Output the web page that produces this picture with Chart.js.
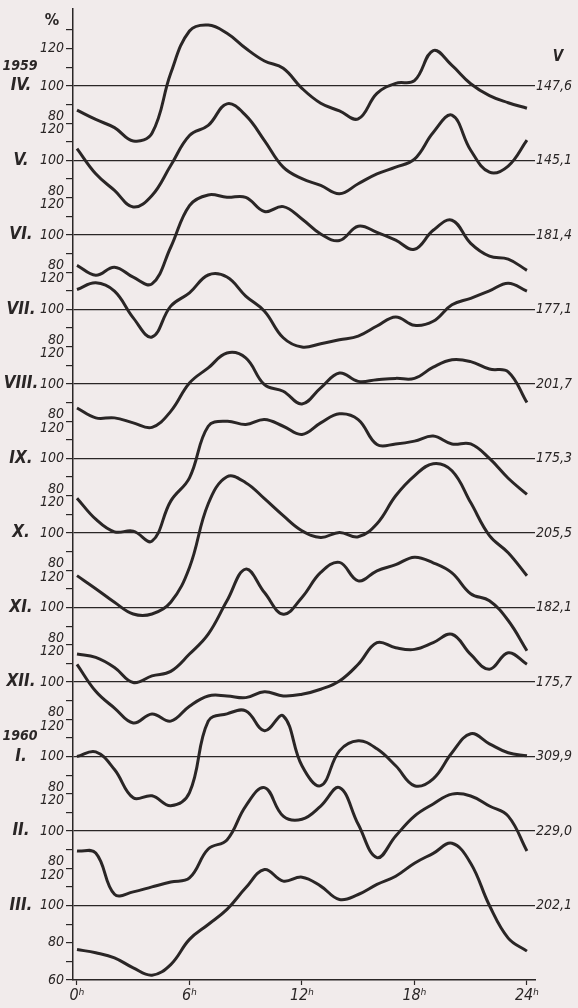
<!DOCTYPE html>
<html>
<head>
<meta charset="utf-8">
<script src="https://cdn.jsdelivr.net/npm/chart.js@4"></script>
<style>
  html, body { margin: 0; padding: 0; background: #f1ebeb; }
  canvas { display: block; }
</style>
</head>
<body>
<canvas id="chart" width="578" height="1008"></canvas>
<script>
// hours of the day (x axis)
const hours = [0,1,2,3,4,5,6,7,8,9,10,11,12,13,14,15,16,17,18,19,20,21,22,23,24];
const hourTicks = [0, 6, 12, 18, 24];

// month labels, year marks and daily mean V (right side)
const months = ['IV.','V.','VI.','VII.','VIII.','IX.','X.','XI.','XII.','I.','II.','III.'];
const yearMarks = ['1959','','','','','','','','','1960','',''];
const dailyV = ['147,6','145,1','181,4','177,1','201,7','175,3','205,5','182,1','175,7','309,9','229,0','202,1'];

// hourly values in % of the daily mean, one array per month
const apr59 = [87,82,77.6,70.5,74.6,106.8,129.5,132.7,128.3,120.2,113.4,109.5,98.7,90.7,86.6,82.3,96,101.4,102.8,119,111,101.2,94.8,91,88];
const may59 = [106.3,92.8,83.9,75,81.2,97.3,113.4,118.8,130.4,124.2,110.7,96.4,90.2,86.6,82.1,87.5,92.8,96.4,100.7,115,124.3,105.5,93.7,97,110.9];
const jun59 = [83.7,78.4,82.7,77.3,73.7,93.4,115.8,121.5,120.2,120.2,112.6,115.2,108.6,100.5,97,104.7,101.4,97.2,92.3,102.5,107.9,95.5,88.6,87,81];
const jul59 = [110.7,114.3,109.8,95.5,85.2,101.8,108.9,118.5,117.4,107.2,99.1,84.8,79.8,81.6,83.7,85.7,91.1,96,91.5,93.7,102.5,106,110,114.1,109.8];
const aug59 = [87.1,81.8,81.8,79.1,76.7,85.3,100.5,108.6,116.6,114,99.6,96.1,89.3,97.9,105.9,101.4,102.3,103,103,109,113,112,108,106.5,90];
const sep59 = [78.7,67.4,60.6,61,55.6,77.1,89.6,117.3,120,118.2,120.9,117.3,112.9,119.1,124,120.9,107.5,107.8,109.3,112,107.8,107.8,100,89.4,80.7];
const oct59 = [77.1,70.1,62.8,56.5,56.5,62.8,81.5,115.7,130.2,127,118.4,109.3,101.2,97.6,100.3,98,105,120,130.7,137.2,133.4,116.3,98.6,89.4,77];
const nov59 = [75,73.2,67.8,59.7,63.3,65.7,75,85.7,103.6,120.6,108,96.4,105.4,118.8,124.2,114.3,119.7,123,127,124,118.6,107.4,103.6,93,76.8];
const dec59 = [109.5,95,86,78,82.8,79,87,92.5,92.5,91.6,94.8,92.5,93.4,96.1,100.5,109.5,121.1,118.4,117.5,121.1,125.6,114.8,106.8,115.7,109.5];
const jan60 = [100,102.5,93,77.8,78.9,73.6,80.6,119,122.9,124.5,113.8,121.8,95,84.3,103,108.4,104.1,95,84.3,88,102,112.2,106.8,102,100.4];
const feb60 = [89.3,88.2,66,67.3,70,72.6,74.8,90.3,95.2,113.4,123.3,108,106.3,113.4,123.3,103.6,85.7,97.3,108,114.5,119.8,118.8,113.4,108,89.3];
const mar60 = [76.4,74.6,71.9,66.5,62.6,68.3,81.8,89.8,97.9,109.5,119.3,113.1,115.2,110.4,103.2,105.9,111.3,115.7,122.7,128,133.4,122.7,100,82.5,75.5];

const series = [apr59, may59, jun59, jul59, aug59, sep59, oct59, nov59, dec59, jan60, feb60, mar60];

// each month is shifted up by 40 % from the one below it
const shift = 40;
const offsetOf = i => (series.length - 1 - i) * shift;
const baseOf = i => 100 + offsetOf(i);

const ink = '#2a2626';
const narrow = "'Liberation Sans Narrow', 'DejaVu Sans Condensed', sans-serif";

const datasets = series.map((vals, i) => ({
    data: hours.map((h, j) => ({ x: h, y: vals[j] + offsetOf(i) })),
    borderColor: ink,
    borderWidth: 3,
    pointRadius: 0,
    tension: 0.4,
    fill: false
}));

// y tick label: 100 at each baseline, 80/120 stacked where months meet
function yLabel(v) {
    if (v === 60) return '60';
    if (v === 80) return '80';
    if (v === 560) return '120';
    if ((v - 20) % 40 === 0 && v >= 100 && v <= 540) return '100';
    if (v % 40 === 0 && v >= 120 && v <= 520) return ['80', '120'];
    return '';
}
const isBase = v => (v - 20) % 40 === 0 && v >= 100 && v <= 540;

// month names, year marks, V values and headers
const labelPlugin = {
    id: 'labels',
    afterDraw(chart) {
        const { ctx, scales: { y } } = chart;
        ctx.save();
        ctx.fillStyle = ink;
        ctx.textBaseline = 'middle';
        months.forEach((m, i) => {
            const py = y.getPixelForValue(baseOf(i));
            ctx.textAlign = 'center';
            ctx.font = `italic bold 17px ${narrow}`;
            ctx.fillText(m, 21, py);
            if (yearMarks[i]) {
                ctx.font = `italic bold 14px ${narrow}`;
                ctx.fillText(yearMarks[i], 20, py - 20);
            }
            ctx.textAlign = 'left';
            ctx.font = `italic 14px ${narrow}`;
            ctx.fillText(dailyV[i], 536, py);
        });
        ctx.textAlign = 'center';
        ctx.font = `bold 16px ${narrow}`;
        ctx.fillText('%', 52, 21);
        ctx.font = `italic bold 15px ${narrow}`;
        ctx.fillText('V', 558, 57);
        ctx.restore();
    }
};

new Chart(document.getElementById('chart'), {
    type: 'line',
    data: { datasets },
    options: {
        responsive: false,
        animation: false,
        devicePixelRatio: 1,
        layout: { padding: { top: 8, right: 43, left: 0, bottom: 0 } },
        plugins: { legend: { display: false }, tooltip: { enabled: false } },
        scales: {
            x: {
                type: 'linear',
                min: -0.213,
                max: 24.43,
                afterBuildTicks: s => { s.ticks = hourTicks.map(v => ({ value: v })); },
                afterFit: s => { s.height = 28; },
                border: { display: true, color: ink, width: 1.5 },
                grid: { drawOnChartArea: false, color: ink, tickLength: 5, tickWidth: 1.2 },
                ticks: {
                    color: ink,
                    padding: 1,
                    maxRotation: 0,
                    font: { family: narrow, size: 16, style: 'italic' },
                    callback: v => v + 'ʰ'
                }
            },
            y: {
                type: 'linear',
                min: 60,
                max: 581.5,
                afterBuildTicks: s => {
                    const t = [];
                    for (let v = 60; v <= 570; v += 10) t.push({ value: v });
                    s.ticks = t;
                },
                afterFit: s => { s.width = 73; },
                border: { display: true, color: ink, width: 1.5 },
                grid: {
                    color: c => (c.tick && isBase(c.tick.value)) ? ink : 'rgba(0,0,0,0)',
                    lineWidth: 1.2,
                    tickColor: ink,
                    tickLength: 7,
                    tickWidth: 1.2
                },
                ticks: {
                    color: ink,
                    padding: 2,
                    autoSkip: false,
                    font: { family: narrow, size: 14, style: 'italic', lineHeight: 0.95 },
                    callback: v => yLabel(v)
                }
            }
        }
    },
    plugins: [labelPlugin]
});
</script>
</body>
</html>
